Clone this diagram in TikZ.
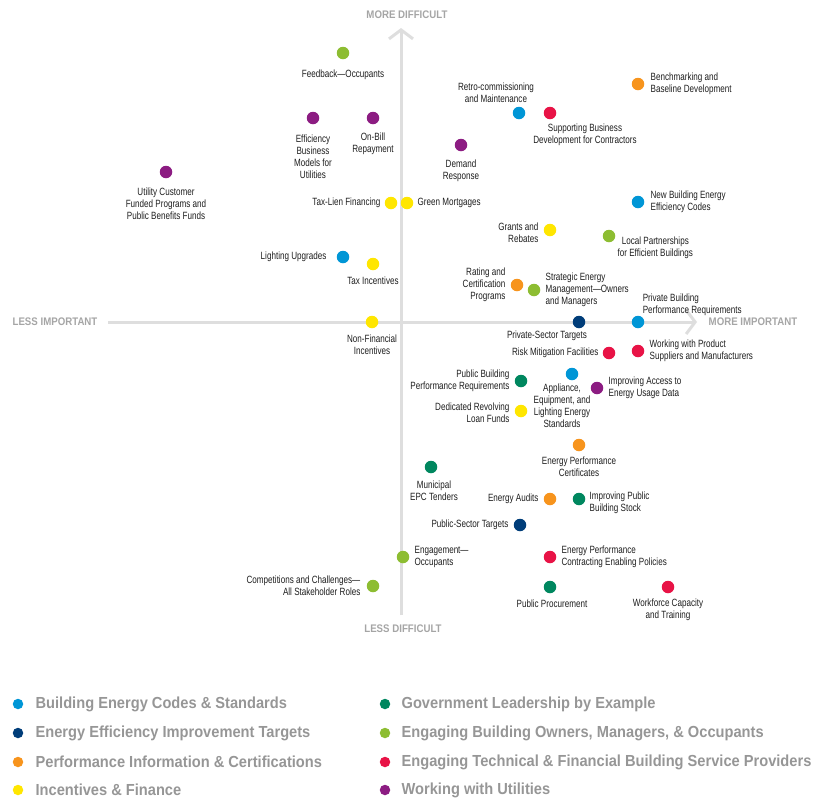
\documentclass[tikz,border=0pt]{standalone}
\usepackage{fontspec}
\usepackage{xcolor}
\usepackage{tikz}
\usetikzlibrary{arrows.meta,positioning,calc}
\newfontfamily\lblfont[FakeStretch=0.77]{Liberation Sans}
\newfontfamily\axfont[FakeStretch=0.88]{Liberation Sans Bold}
\newfontfamily\keyfont[FakeStretch=0.915]{Liberation Sans Bold}
\definecolor{ecBlue}   {RGB}{  0,150,214}
\definecolor{ecNavy}   {RGB}{  0, 61,121}
\definecolor{ecOrange} {RGB}{247,148, 29}
\definecolor{ecYellow} {RGB}{255,230,  0}
\definecolor{ecGreen}  {RGB}{  0,135, 95}
\definecolor{ecLime}   {RGB}{141,189, 50}
\definecolor{ecRed}    {RGB}{232, 19, 70}
\definecolor{ecPurple} {RGB}{140, 28,130}
\definecolor{ecAxis}   {RGB}{222,222,222}
\definecolor{ecAxisTxt}{RGB}{165,165,165}
\definecolor{ecLeg}    {RGB}{150,150,150}
\definecolor{ecTxt}    {RGB}{ 30, 30, 30}

\begin{document}
\begin{tikzpicture}[
  x=1pt,y=-1pt,
  dot/.style ={circle,inner sep=0pt,minimum size=12.5pt},
  codes/.style={dot,fill=ecBlue},
  tgt/.style ={dot,fill=ecNavy},
  perf/.style={dot,fill=ecOrange},
  fin/.style ={dot,fill=ecYellow},
  gov/.style ={dot,fill=ecGreen},
  own/.style ={dot,fill=ecLime},
  svc/.style ={dot,fill=ecRed},
  util/.style={dot,fill=ecPurple},
  lbl/.style ={inner sep=1pt,text=ecTxt,align=center,
               font=\lblfont\fontsize{10.5}{12}\selectfont},
  axl/.style ={inner sep=0pt,text=ecAxisTxt,
               font=\axfont\fontsize{11}{13}\selectfont},
  axis/.style={draw=ecAxis,line width=3pt,
               -{Straight Barb[length=9pt,width=24pt]}},
  legdot/.style={circle,inner sep=0pt,minimum size=10.5pt},
  legtxt/.style={inner sep=1pt,text=ecLeg,anchor=west,
               font=\keyfont\fontsize{16}{18}\selectfont}
]
\useasboundingbox (0,0) rectangle (814,801);

% axes
\coordinate (yb) at (401,615);
\coordinate (yt) at (401,28);
\coordinate (xl) at (108,322);
\coordinate (xr) at (697,322);
\draw[axis] (yb) -- (yt);
\draw[axis] (xl) -- (xr);
\node[axl] (moreD) at (407,15)  {MORE DIFFICULT};
\node[axl] (lessD) at (403,629) {LESS DIFFICULT};
\node[axl] (lessI) at (55,322)  {LESS IMPORTANT};
\node[axl] (moreI) at (753,322) {MORE IMPORTANT};

% upper left
\node[own]  (FO) at (343,53)  {};
\node[util] (EB) at (313,118) {};
\node[util] (OB) at (373,118) {};
\node[util] (UC) at (166,172) {};
\node[fin]  (TL) at (391,203) {};
\node[fin]  (GM) at (407,203) {};
\node[codes] (LU) at (343,257) {};
\node[fin]  (TI) at (373,264) {};
\node[fin]  (NF) at (372,322) {};
\node[lbl,below=9pt of FO] (FOl) {Feedback—Occupants};
\node[lbl,below=9pt of EB] (EBl) {Efficiency\\Business\\Models for\\Utilities};
\node[lbl,below=7pt of OB] (OBl) {On-Bill\\Repayment};
\node[lbl,below=8pt of UC] (UCl) {Utility Customer\\Funded Programs and\\Public Benefits Funds};
\node[lbl,left=3pt of TL]  (TLl) {Tax-Lien Financing};
\node[lbl,right=3pt of GM] (GMl) {Green Mortgages};
\node[lbl,left=9pt of LU]  (LUl) {Lighting Upgrades};
\node[lbl,below=5pt of TI] (TIl) {Tax Incentives};
\node[lbl,below=5pt of NF] (NFl) {Non-Financial\\Incentives};

% upper right
\node[codes] (RC) at (519,113) {};
\node[svc]  (SB) at (550,113) {};
\node[perf] (BM) at (638,84)  {};
\node[util] (DR) at (461,145) {};
\node[codes] (NB) at (638,202) {};
\node[fin]  (GR) at (550,230) {};
\node[own]  (LP) at (609,236) {};
\node[perf] (RT) at (517,285) {};
\node[own]  (SE) at (534,290) {};
\node[codes] (PB) at (638,322) {};
\node[tgt]  (PS) at (579,322) {};
\node[lbl,above=3pt of RC,xshift=-23pt] (RCl) {Retro-commissioning\\and Maintenance};
\node[lbl,below=3pt of SB,xshift=35pt]  (SBl) {Supporting Business\\Development for Contractors};
\node[lbl,right=5pt of BM,align=left]  (BMl) {Benchmarking and\\Baseline Development};
\node[lbl,below=7pt of DR] (DRl) {Demand\\Response};
\node[lbl,right=5pt of NB,align=left]  (NBl) {New Building Energy\\Efficiency Codes};
\node[lbl,left=4pt of GR,align=right,yshift=-3pt] (GRl) {Grants and\\Rebates};
\node[lbl,right=1pt of LP,anchor=north west] (LPl) {Local Partnerships\\for Efficient Buildings};
\node[lbl,left=4pt of RT,align=right]  (RTl) {Rating and\\Certification\\Programs};
\node[lbl,right=4pt of SE,align=left]  (SEl) {Strategic Energy\\Management—Owners\\and Managers};
\node[lbl,above right=1pt and -1pt of PB,align=left] (PBl) {Private Building\\Performance Requirements};
\node[lbl,below=1pt of PS,xshift=-32pt] (PSl) {Private-Sector Targets};

% lower right
\node[svc]  (RM) at (609,353) {};
\node[svc]  (WP) at (638,351) {};
\node[gov]  (PU) at (521,381) {};
\node[codes] (AE) at (572,374) {};
\node[util] (IA) at (597,388) {};
\node[fin]  (DV) at (521,411) {};
\node[perf] (EC) at (579,445) {};
\node[gov]  (ME) at (431,467) {};
\node[perf] (EA) at (550,499) {};
\node[gov]  (IP) at (579,499) {};
\node[tgt]  (PT) at (520,525) {};
\node[own]  (EO) at (403,557) {};
\node[own]  (CC) at (373,586) {};
\node[svc]  (EP) at (550,557) {};
\node[gov]  (PP) at (550,587) {};
\node[svc]  (WF) at (668,587) {};
\node[lbl,left=3pt of RM]  (RMl) {Risk Mitigation Facilities};
\node[lbl,right=4pt of WP,align=left]  (WPl) {Working with Product\\Suppliers and Manufacturers};
\node[lbl,left=4pt of PU,align=right]  (PUl) {Public Building\\Performance Requirements};
\node[lbl,below=2pt of AE,xshift=-10pt] (AEl) {Appliance,\\Equipment, and\\Lighting Energy\\Standards};
\node[lbl,right=4pt of IA,align=left]  (IAl) {Improving Access to\\Energy Usage Data};
\node[lbl,left=4pt of DV,align=right,yshift=-2pt] (DVl) {Dedicated Revolving\\Loan Funds};
\node[lbl,below=4pt of EC]  (ECl) {Energy Performance\\Certificates};
\node[lbl,below=6pt of ME,xshift=3pt] (MEl) {Municipal\\EPC Tenders};
\node[lbl,left=4pt of EA]   (EAl) {Energy Audits};
\node[lbl,right=3pt of IP,align=left,yshift=-4pt] (IPl) {Improving Public\\Building Stock};
\node[lbl,left=4pt of PT]   (PTl) {Public-Sector Targets};
\node[lbl,right=4pt of EO,align=left]  (EOl) {Engagement—\\Occupants};
\node[lbl,left=5pt of CC,align=right]  (CCl) {Competitions and Challenges—\\All Stakeholder Roles};
\node[lbl,right=4pt of EP,align=left]  (EPl) {Energy Performance\\Contracting Enabling Policies};
\node[lbl,below=5pt of PP,xshift=2pt] (PPl) {Public Procurement};
\node[lbl,below=4pt of WF]  (WFl) {Workforce Capacity\\and Training};

% legend
\node[legdot,fill=ecBlue]   (k1) at (18,704) {};
\node[legdot,fill=ecNavy]   (k2) at (18,733) {};
\node[legdot,fill=ecOrange] (k3) at (18,762) {};
\node[legdot,fill=ecYellow] (k4) at (18,790) {};
\node[legdot,fill=ecGreen]  (k5) at (385,704) {};
\node[legdot,fill=ecLime]   (k6) at (385,733) {};
\node[legdot,fill=ecRed]    (k7) at (385,762) {};
\node[legdot,fill=ecPurple] (k8) at (385,790) {};
\node[legtxt,right=11pt of k1] (k1t) {Building Energy Codes \& Standards};
\node[legtxt,right=11pt of k2] (k2t) {Energy Efficiency Improvement Targets};
\node[legtxt,right=11pt of k3] (k3t) {Performance Information \& Certifications};
\node[legtxt,right=11pt of k4] (k4t) {Incentives \& Finance};
\node[legtxt,right=10pt of k5] (k5t) {Government Leadership by Example};
\node[legtxt,right=10pt of k6] (k6t) {Engaging Building Owners, Managers, \& Occupants};
\node[legtxt,right=10pt of k7] (k7t) {Engaging Technical \& Financial Building Service Providers};
\node[legtxt,right=10pt of k8] (k8t) {Working with Utilities};
\end{tikzpicture}
\end{document}
